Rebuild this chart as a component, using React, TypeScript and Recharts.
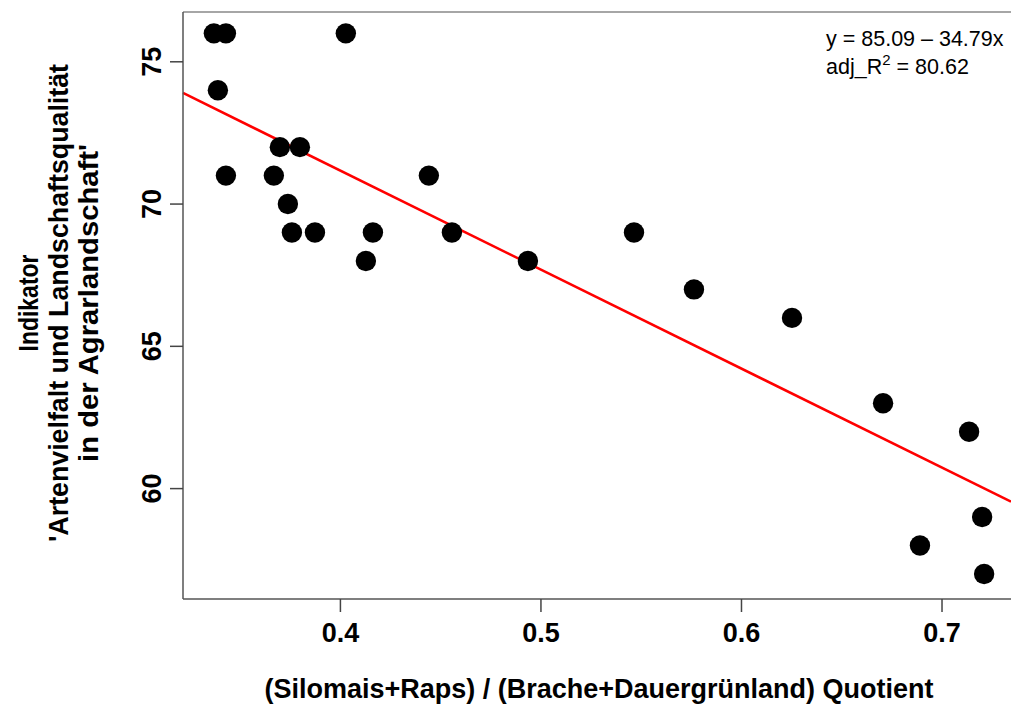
import React from 'react';
import { ScatterChart, Scatter, XAxis, YAxis, ReferenceLine, Customized } from 'recharts';

// Data
const quotient = [
  0.3369, 0.3429, 0.3389, 0.3429, 0.4027, 0.3698, 0.3798, 0.3668,
  0.3738, 0.3758, 0.3873, 0.4162, 0.4127, 0.4441, 0.4556, 0.4935,
  0.5464, 0.5763, 0.6252, 0.6706, 0.7135, 0.72, 0.689, 0.721,
];
const indicator = [
  76, 76, 74, 71, 76, 72, 72, 71,
  70, 69, 69, 69, 68, 71, 69, 68,
  69, 67, 66, 63, 62, 59, 58, 57,
];
const xTicks = [0.4, 0.5, 0.6, 0.7];
const yTicks = [60, 65, 70, 75];
const xDomain: [number, number] = [0.3215, 0.7344];
const yDomain: [number, number] = [56.12, 76.75];
const intercept = 85.09;
const slope = -34.79;
const adjR2 = 80.62;
const xTitle = '(Silomais+Raps) / (Brache+Dauergrünland) Quotient';
const yTitleLines = ['Indikator', "'Artenvielfalt und Landschaftsqualität", "in der Agrarlandschaft'"];

const points = quotient.map((q, i) => ({ x: q, y: indicator[i] }));
const fitSegment = xDomain.map((x) => ({ x, y: intercept + slope * x }));

const FONT = '"Liberation Sans", Arial, Helvetica, sans-serif';

const XTick = (props: any) => {
  const { x, y, payload } = props;
  return (
    <text x={x} y={y + 30} textAnchor="middle" fontFamily={FONT} fontWeight="bold" fontSize={27} fill="#000">
      {String(payload.value)}
    </text>
  );
};

const YTick = (props: any) => {
  const { x, y, payload } = props;
  return (
    <g transform={`translate(${x},${y})`}>
      <text transform="rotate(-90)" x={0} y={0} textAnchor="middle" fontFamily={FONT} fontWeight="bold" fontSize={27} fill="#000">
        {String(payload.value)}
      </text>
    </g>
  );
};

const Dot = (props: any) => <circle cx={props.cx} cy={props.cy} r={10.2} fill="#000" />;

const yTitleX = [38, 68, 98];
const yTitleLen = [97, 478, 318];

const Annotations = () => (
  <g>
    <text x={599} y={698} textAnchor="middle" fontFamily={FONT} fontWeight="bold" fontSize={27} fill="#000">
      {xTitle}
    </text>
    {yTitleLines.map((line, i) => (
      <g key={i} transform={`translate(${yTitleX[i]},303)`}>
        <text
          transform="rotate(-90)"
          x={0}
          y={0}
          textAnchor="middle"
          textLength={yTitleLen[i]}
          lengthAdjust="spacingAndGlyphs"
          fontFamily={FONT}
          fontWeight="bold"
          fontSize={27}
          fill="#000"
        >
          {line}
        </text>
      </g>
    ))}
    <text x={826} y={46} fontFamily={FONT} fontSize={21.5} fill="#000">
      {`y = ${intercept.toFixed(2)} \u2013 ${Math.abs(slope).toFixed(2)}x`}
    </text>
    <text x={826} y={74} fontFamily={FONT} fontSize={21.5} fill="#000">
      <tspan>adj_R</tspan>
      <tspan dy={-9} fontSize={15}>2</tspan>
      <tspan dy={9}>{` = ${adjR2.toFixed(2)}`}</tspan>
    </text>
  </g>
);

export default function App() {
  return (
    <div style={{ position: 'absolute', left: 0, top: 0, width: 1011, height: 706, background: '#fff' }}>
      <ScatterChart width={1011} height={706} margin={{ top: 12, right: 0, bottom: 0, left: 0 }}>
        <XAxis
          dataKey="x"
          type="number"
          domain={xDomain}
          ticks={xTicks}
          allowDataOverflow
          height={107}
          tickSize={13}
          tickMargin={0}
          axisLine={{ stroke: '#555', strokeWidth: 1.5 }}
          tickLine={{ stroke: '#444', strokeWidth: 1.5 }}
          tick={<XTick />}
        />
        <YAxis
          dataKey="y"
          type="number"
          domain={yDomain}
          ticks={yTicks}
          allowDataOverflow
          width={183}
          tickSize={13}
          tickMargin={9}
          axisLine={{ stroke: '#555', strokeWidth: 1.5 }}
          tickLine={{ stroke: '#444', strokeWidth: 1.5 }}
          tick={<YTick />}
        />
        <ReferenceLine y={yDomain[1]} stroke="#888" strokeWidth={1.5} />
        <Scatter data={points} fill="#000" shape={<Dot />} isAnimationActive={false} />
        <ReferenceLine segment={fitSegment} stroke="#ff0000" strokeWidth={2.5} />
        <Customized component={Annotations} />
      </ScatterChart>
    </div>
  );
}
